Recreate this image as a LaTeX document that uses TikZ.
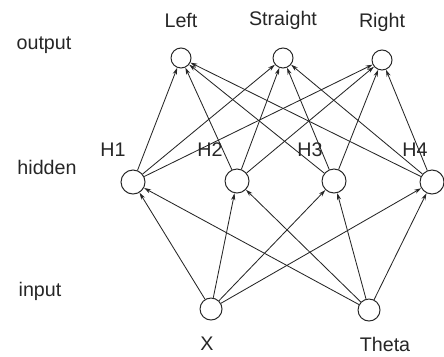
\documentclass[tikz,border=0pt]{standalone}
\usepackage{fontspec}
\setmainfont{Liberation Sans}
\usetikzlibrary{arrows.meta,positioning}

\begin{document}
\begin{tikzpicture}[
  x=0.025cm, y=0.025cm,
  every node/.style={font=\fontsize{14}{16}\selectfont, text=black!85},
  unit/.style={draw=black!85, circle, line width=0.7pt, inner sep=0pt, minimum size=0.5cm},
  hunit/.style={unit, minimum size=0.6cm},
  iunit/.style={unit, minimum size=0.55cm},
  arr/.style={-{Stealth[length=5pt, width=3pt]}, line width=0.6pt, draw=black!85}
]
\useasboundingbox (0,0) rectangle (444,356);

%% Layer names
\node (lout) at (44,311) {output};
\node (lhid) at (47,189) {hidden};
\node (lin)  at (40,65)  {input};

%% Output layer
\node[unit] (left)  at (181,298) {};
\node[unit] (strt)  at (283,298) {};
\node[unit] (right) at (382,296) {};
\node (tleft)  at (181,336) {Left};
\node (tstrt)  at (283,336) {Straight};
\node (tright) at (382,334) {Right};

%% Hidden layer
\node[hunit] (h1) at (133,174) {};
\node[hunit] (h2) at (237,175) {};
\node[hunit] (h3) at (334,175) {};
\node[hunit] (h4) at (432,174) {};
\node (th1) at (113,206) {H1};
\node (th2) at (210,206) {H2};
\node (th3) at (310,206) {H3};
\node (th4) at (415,206) {H4};

%% Input layer
\node[iunit] (x)  at (211,47) {};
\node[iunit] (th) at (369,46) {};
\node (tx)  at (207,12) {X};
\node (tth) at (385,12) {Theta};

%% Hidden to output
\draw[arr] (h1) -- (left);
\draw[arr] (h1) -- (strt);
\draw[arr] (h1) -- (right);
\draw[arr] (h2) -- (left);
\draw[arr] (h2) -- (strt);
\draw[arr] (h2) -- (right);
\draw[arr] (h3) -- (left);
\draw[arr] (h3) -- (strt);
\draw[arr] (h3) -- (right);
\draw[arr] (h4) -- (left);
\draw[arr] (h4) -- (strt);
\draw[arr] (h4) -- (right);

%% Input to hidden
\draw[arr] (x) -- (h1);
\draw[arr] (x) -- (h2);
\draw[arr] (x) -- (h3);
\draw[arr] (x) -- (h4);
\draw[arr] (th) -- (h1);
\draw[arr] (th) -- (h2);
\draw[arr] (th) -- (h3);
\draw[arr] (th) -- (h4);

\end{tikzpicture}
\end{document}
